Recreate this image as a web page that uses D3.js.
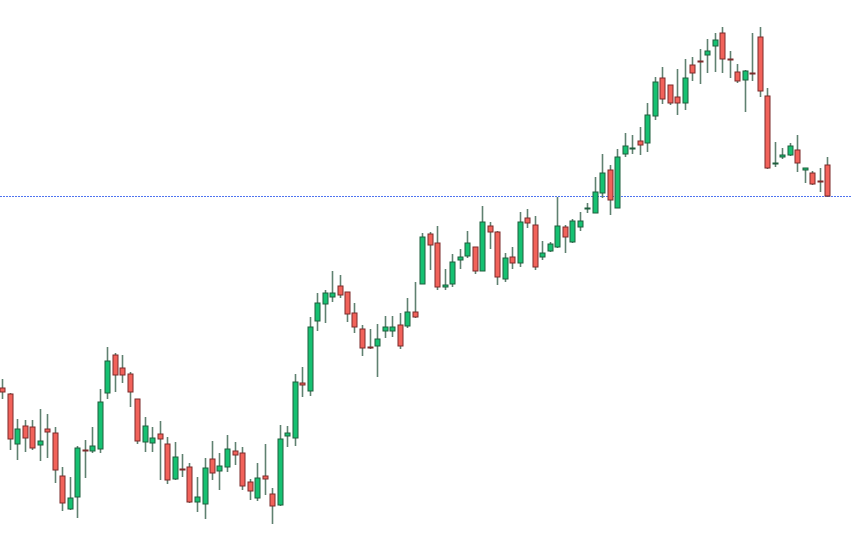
<!DOCTYPE html>
<html>
<head>
<meta charset="utf-8">
<script src="https://cdn.jsdelivr.net/npm/d3@7"></script>
<style>
  html, body { margin: 0; padding: 0; background: #ffffff; }
  svg { display: block; }
</style>
</head>
<body>
<svg id="chart" width="851" height="541"></svg>
<script>
const openV  = [162,156,106,124,123,105,121,117,74,41,53,100,99,101,157,195,182,176,151,108,107,116,106,71,81,83,48,46,91,79,83,99,97,68,52,74,56,45,114,112,167,159,229,246,253,264,258,237,221,203,204,219,219,225,224,238,266,316,307,263,266,290,294,303,279,324,318,271,293,287,332,325,293,299,303,323,308,323,341,337,357,380,342,396,401,409,407,434,472,465,453,447,485,489,495,504,517,491,478,470,477,513,454,386,393,395,400,380,377,369,385];
const highV  = [171,157,131,130,130,141,136,123,83,73,104,110,123,161,203,197,195,178,151,133,123,129,113,108,96,87,73,92,109,97,115,108,103,71,87,106,62,125,124,176,183,233,257,260,279,275,258,247,225,221,226,234,234,237,252,268,317,318,324,281,296,301,319,303,344,328,319,297,303,338,341,334,309,308,353,325,331,338,347,373,396,385,401,417,415,423,447,473,483,465,481,491,493,501,511,517,523,499,486,480,517,523,462,408,402,407,415,382,379,382,393];
const lowV   = [151,100,90,98,100,89,92,67,39,40,32,72,97,97,151,158,167,143,106,98,98,70,66,70,73,47,38,31,70,60,78,85,60,50,49,55,26,44,103,104,153,154,219,227,248,252,228,217,194,201,173,212,213,201,222,232,266,280,260,260,263,281,292,276,279,301,265,268,281,283,322,280,290,298,302,297,307,319,337,337,352,335,342,393,396,395,398,430,446,445,435,440,469,466,477,478,477,472,467,438,469,453,381,383,391,394,378,367,365,358,353];
const closeV = [158,111,121,112,102,109,118,80,47,52,102,99,104,148,189,175,175,158,109,124,112,111,70,93,80,48,53,82,77,84,101,95,64,59,72,71,44,111,117,168,165,223,247,257,257,255,236,223,202,202,211,223,223,204,238,233,313,305,263,265,288,293,307,279,328,318,273,292,287,328,327,283,297,306,324,313,329,329,342,358,377,350,393,404,402,405,435,468,451,447,447,472,477,488,499,510,491,490,469,479,476,459,382,387,395,404,387,382,366,368,354];
const lastPrice = closeV[closeV.length - 1];

const W = 851, H = 541;
const svg = d3.select("#chart");

const idx = d3.range(openV.length);
const x = d3.scaleLinear().domain([0, openV.length - 1]).range([2, 827]);
const y = d3.scaleLinear().domain([0, 550]).range([550, 0]);

const bodyW = 5;
const upFill = "#16c172", upStroke = "#1e5e3d";
const dnFill = "#f2625a", dnStroke = "#7d2a2a";
const wickColor = "#5f8170";

// current price line
svg.append("line")
  .attr("x1", 0).attr("x2", W)
  .attr("y1", Math.round(y(lastPrice)) + 0.5).attr("y2", Math.round(y(lastPrice)) + 0.5)
  .attr("stroke", "#4f74f0")
  .attr("stroke-width", 1)
  .attr("stroke-dasharray", "2,1");

const g = svg.append("g");

// wicks
g.selectAll("line.wick").data(idx).join("line")
  .attr("class", "wick")
  .attr("x1", i => Math.round(x(i)) + 0.5)
  .attr("x2", i => Math.round(x(i)) + 0.5)
  .attr("y1", i => y(highV[i]))
  .attr("y2", i => y(lowV[i]))
  .attr("stroke", wickColor)
  .attr("stroke-width", 1.6);

// bodies
g.selectAll("rect.body").data(idx).join("rect")
  .attr("class", "body")
  .attr("x", i => Math.round(x(i)) + 0.5 - bodyW / 2)
  .attr("y", i => y(Math.max(openV[i], closeV[i])))
  .attr("width", bodyW)
  .attr("height", i => Math.max(1, Math.abs(y(openV[i]) - y(closeV[i]))))
  .attr("fill", i => closeV[i] >= openV[i] ? upFill : dnFill)
  .attr("stroke", i => closeV[i] >= openV[i] ? upStroke : dnStroke)
  .attr("stroke-width", 1);
</script>
</body>
</html>
